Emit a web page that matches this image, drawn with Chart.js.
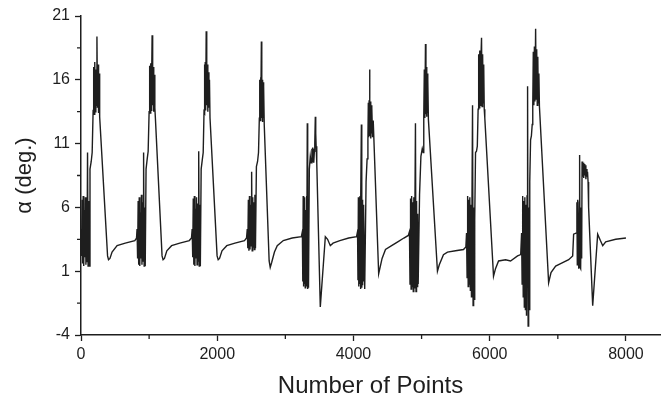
<!DOCTYPE html>
<html>
<head>
<meta charset="utf-8">
<script src="https://cdn.jsdelivr.net/npm/chart.js@4"></script>
<style>
  html, body { margin: 0; padding: 0; background: #fff; }
</style>
</head>
<body>
<canvas id="alphaChart" width="665" height="401"></canvas>
<script>
// number of points (x) and angle alpha in degrees (y), one cycle per line
const pointNo = [
  0, 8, 16, 24, 32, 40, 48, 56, 64, 72, 80, 88, 96, 104, 112, 120, 132, 150, 164, 178, 186, 194, 202, 210, 218, 226, 234, 242, 250, 258, 266, 274, 390, 404, 425, 456, 530, 650, 790, 815,
  823, 831, 839, 847, 855, 863, 871, 879, 887, 895, 903, 911, 919, 927, 935, 943, 955, 972, 986, 1000, 1008, 1016, 1024, 1032, 1038, 1044, 1052, 1060, 1068, 1076, 1084, 1092, 1190, 1205, 1225, 1260, 1330, 1450, 1590, 1622,
  1632, 1640, 1648, 1656, 1664, 1672, 1680, 1688, 1696, 1704, 1712, 1720, 1728, 1736, 1744, 1752, 1764, 1780, 1794, 1806, 1812, 1818, 1824, 1830, 1838, 1846, 1854, 1862, 1870, 1878, 1886, 1894, 1998, 2014, 2034, 2070, 2140, 2260, 2400, 2430,
  2441, 2449, 2457, 2465, 2473, 2481, 2489, 2497, 2505, 2513, 2521, 2529, 2537, 2545, 2553, 2561, 2575, 2592, 2606, 2618, 2624, 2630, 2636, 2642, 2648, 2654, 2660, 2666, 2672, 2678, 2684, 2690, 2762, 2778, 2800, 2840, 2881, 2970, 3100, 3235,
  3250, 3256, 3262, 3268, 3274, 3280, 3286, 3292, 3298, 3304, 3310, 3316, 3322, 3328, 3334, 3340, 3352, 3366, 3378, 3390, 3396, 3402, 3408, 3414, 3420, 3426, 3432, 3440, 3446, 3452, 3458, 3464, 3513, 3587, 3620, 3660, 3700, 3800, 3930, 4045,
  4060, 4066, 4072, 4078, 4084, 4090, 4096, 4102, 4108, 4116, 4122, 4128, 4134, 4140, 4146, 4152, 4165, 4185, 4200, 4212, 4218, 4224, 4230, 4236, 4242, 4248, 4254, 4260, 4266, 4272, 4280, 4290, 4370, 4420, 4470, 4560, 4650, 4740, 4805,
  4822, 4830, 4838, 4846, 4854, 4862, 4870, 4878, 4886, 4894, 4902, 4910, 4918, 4926, 4934, 4942, 4950, 4970, 4990, 5010, 5024, 5032, 5040, 5048, 5057, 5064, 5070, 5076, 5082, 5088, 5094, 5100, 5233, 5260, 5321, 5380, 5498, 5615, 5650,
  5660, 5668, 5676, 5684, 5692, 5700, 5708, 5716, 5724, 5732, 5740, 5748, 5756, 5764, 5772, 5780, 5792, 5806, 5818, 5830, 5838, 5846, 5854, 5862, 5870, 5880, 5888, 5896, 5904, 5912, 5920, 5928, 6056, 6085, 6130, 6233, 6306, 6409, 6455,
  6468, 6476, 6484, 6492, 6500, 6508, 6516, 6524, 6532, 6540, 6548, 6556, 6564, 6572, 6580, 6588, 6600, 6612, 6624, 6632, 6640, 6648, 6656, 6664, 6674, 6682, 6690, 6698, 6706, 6714, 6722, 6730, 6865, 6900, 6968, 7041, 7159, 7218,
  7232, 7275, 7280, 7286, 7292, 7298, 7304, 7310, 7316, 7320, 7326, 7332, 7338, 7344, 7350, 7356, 7364, 7372, 7380, 7388, 7396, 7404, 7412, 7420, 7428, 7436, 7444, 7452, 7512, 7585, 7625, 7659, 7703, 7850, 8000
];
const alphaDeg = [
  4.3, 2.2, 6.6, 1.6, 6.9, 1.4, 5.8, 2.1, 6.8, 1.5, 6.2, 1.7, 10.3, 1.4, 6.5, 1.4, 9.0, 9.6, 10.3, 13.6, 17.0, 13.3, 17.4, 13.5, 16.8, 14.0, 19.4, 13.8, 17.2, 13.4, 16.5, 13.1, 2.2, 1.9, 2.0, 2.5, 3.0, 3.2, 3.4, 3.6,
  4.3, 2.0, 6.5, 1.5, 6.8, 1.4, 5.6, 2.0, 7.0, 1.5, 6.4, 1.8, 10.3, 1.4, 6.0, 1.4, 9.0, 9.8, 10.4, 13.5, 17.1, 13.4, 17.3, 13.6, 16.5, 19.5, 14.0, 17.0, 13.5, 16.4, 13.8, 13.0, 2.2, 1.9, 2.0, 2.6, 3.0, 3.2, 3.4, 3.6,
  4.3, 2.1, 6.7, 1.5, 6.9, 1.4, 5.9, 2.0, 6.8, 1.5, 6.3, 1.8, 10.4, 1.4, 6.2, 1.4, 9.0, 9.7, 10.3, 13.5, 17.2, 13.4, 17.4, 13.6, 19.8, 14.0, 17.2, 13.5, 16.6, 13.8, 16.0, 13.0, 2.2, 1.9, 2.0, 2.6, 3.0, 3.2, 3.4, 3.6,
  4.3, 2.8, 6.6, 2.6, 6.9, 2.7, 6.2, 3.0, 8.8, 2.6, 6.8, 2.9, 6.4, 2.7, 7.0, 2.8, 9.2, 9.6, 10.3, 13.0, 16.0, 12.8, 16.2, 13.2, 19.0, 13.0, 16.0, 12.7, 15.8, 13.0, 15.5, 12.5, 1.8, 1.3, 1.7, 2.5, 3.0, 3.4, 3.6, 3.7,
  4.1, 0.2, 6.9, -0.2, 6.5, 0.0, 6.8, -0.3, 5.8, 0.3, 6.9, -0.2, 12.6, -0.4, 6.0, -0.3, 9.0, 10.0, 9.5, 10.6, 9.6, 10.7, 9.8, 10.6, 9.5, 10.4, 11.0, 13.1, 11.8, 10.8, 10.2, 9.5, -1.8, 3.7, 3.5, 3.0, 3.2, 3.4, 3.6, 3.7,
  4.1, 0.3, 6.8, -0.2, 6.5, 0.0, 6.9, -0.4, 5.9, 12.5, -0.3, 6.6, -0.1, 6.2, 0.2, 6.0, -0.4, 8.0, 9.8, 11.3, 14.2, 11.5, 14.4, 16.8, 11.6, 14.3, 11.4, 14.0, 11.8, 13.8, 11.5, 12.8, 0.8, 2.0, 2.7, 3.0, 3.3, 3.6, 3.8,
  4.1, 0.0, 6.7, -0.4, 6.9, -0.2, 6.4, -0.6, 6.8, -0.3, 6.0, 12.6, -0.6, 6.5, -0.2, 5.5, 0.0, 7.0, 10.0, 10.6, 10.3, 13.2, 16.8, 13.0, 18.8, 13.3, 17.0, 13.1, 16.5, 13.4, 16.0, 12.9, 1.0, 1.5, 2.3, 2.5, 2.6, 2.7, 2.9,
  4.0, 0.5, 6.9, -0.2, 6.6, 0.0, 6.8, -0.5, 6.2, -1.0, 6.9, 14.0, -1.7, 6.0, -1.2, 5.0, 10.3, 10.4, 10.8, 13.7, 18.0, 13.8, 18.3, 14.0, 17.5, 19.3, 13.9, 18.0, 14.2, 17.2, 13.7, 13.0, 0.6, 1.2, 1.8, 1.9, 1.8, 2.2, 2.3,
  4.0, 0.0, 6.9, -1.0, 6.5, -1.8, 6.8, -2.0, 6.2, -2.5, 6.9, 15.5, -3.3, 6.0, -2.0, 8.0, 11.3, 11.6, 12.5, 14.0, 18.2, 14.0, 18.6, 14.3, 20.0, 14.5, 18.4, 14.0, 17.8, 14.2, 16.5, 13.9, 0.1, 0.9, 1.4, 1.6, 1.9, 2.2,
  3.9, 4.0, 6.4, 1.5, 6.6, 3.0, 5.5, 1.2, 6.4, 10.1, 1.3, 6.0, 1.2, 5.5, 2.0, 9.6, 8.4, 9.5, 8.3, 9.4, 8.5, 9.3, 8.2, 9.0, 8.4, 8.8, 8.0, 6.0, -1.7, 3.9, 3.4, 3.0, 3.3, 3.5, 3.6
];

const xMajorTicks = [0, 2000, 4000, 6000, 8000];
const xMinorTicks = [1000, 3000, 5000, 7000];
const yMajorTicks = [-4, 1, 6, 11, 16, 21];
const yMinorTicks = [-1.5, 3.5, 8.5, 13.5, 18.5];

const ink = "#1e1e1e";
const fontFamily = "'Liberation Sans', Arial, sans-serif";

const minorTicks = {
  id: "minorTicks",
  afterDraw(chart) {
    const { ctx } = chart;
    const x = chart.scales.x;
    const y = chart.scales.y;
    ctx.save();
    ctx.strokeStyle = ink;
    ctx.lineWidth = 1.3;
    ctx.beginPath();
    xMinorTicks.forEach(function (v) {
      const px = x.getPixelForValue(v);
      ctx.moveTo(px, x.top);
      ctx.lineTo(px, x.top + 4);
    });
    yMinorTicks.forEach(function (v) {
      const py = y.getPixelForValue(v);
      ctx.moveTo(y.right, py);
      ctx.lineTo(y.right - 4, py);
    });
    ctx.stroke();
    ctx.restore();
  },
};

const points = pointNo.map(function (n, i) {
  return { x: n, y: alphaDeg[i] };
});

new Chart(document.getElementById("alphaChart").getContext("2d"), {
  type: "line",
  data: {
    datasets: [
      {
        data: points,
        borderColor: ink,
        borderWidth: 1.4,
        pointRadius: 0,
        tension: 0,
        fill: false,
      },
    ],
  },
  options: {
    responsive: false,
    animation: false,
    layout: { padding: { top: 16, right: 5, left: 0, bottom: 0 } },
    plugins: { legend: { display: false }, tooltip: { enabled: false } },
    scales: {
      x: {
        type: "linear",
        min: 0,
        max: 8500,
        afterBuildTicks: function (scale) {
          scale.ticks = xMajorTicks.map(function (v) { return { value: v }; });
        },
        afterFit: function (scale) {
          scale.height = 66;
        },
        ticks: {
          autoSkip: false,
          maxRotation: 0,
          padding: 4,
          color: ink,
          font: { family: fontFamily, size: 16 },
          callback: function (value) { return String(value); },
        },
        grid: { drawOnChartArea: false, tickLength: 6, tickColor: ink, tickWidth: 1.3 },
        border: { color: ink, width: 1.5 },
        title: {
          display: true,
          text: "Number of Points",
          color: ink,
          padding: { top: 0, bottom: 0 },
          font: { family: fontFamily, size: 24 },
        },
      },
      y: {
        type: "linear",
        min: -4,
        max: 21,
        afterBuildTicks: function (scale) {
          scale.ticks = yMajorTicks.map(function (v) { return { value: v }; });
        },
        afterFit: function (scale) {
          scale.width = 81;
        },
        ticks: {
          autoSkip: false,
          padding: 5,
          color: ink,
          font: { family: fontFamily, size: 16 },
          callback: function (value) { return String(value); },
        },
        grid: { drawOnChartArea: false, tickLength: 6, tickColor: ink, tickWidth: 1.3 },
        border: { color: ink, width: 1.5 },
        title: {
          display: true,
          text: "α (deg.)",
          color: ink,
          padding: { top: 12, bottom: 0 },
          font: { family: fontFamily, size: 22 },
        },
      },
    },
  },
  plugins: [minorTicks],
});
</script>
</body>
</html>
